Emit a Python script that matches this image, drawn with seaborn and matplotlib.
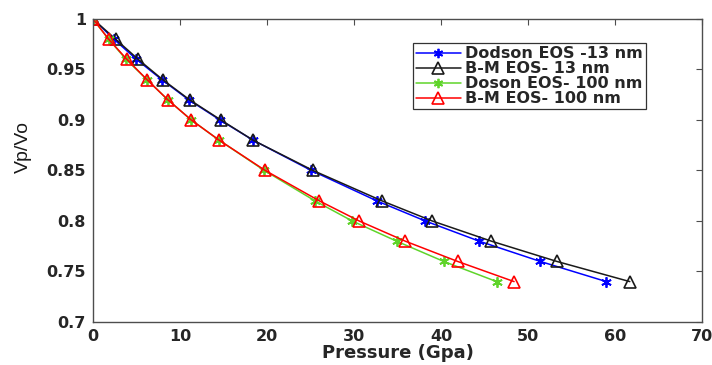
import numpy as np
import pandas as pd
import matplotlib
matplotlib.use("Agg")
import matplotlib.pyplot as plt
import seaborn as sns
from matplotlib.ticker import FuncFormatter

sns.set_theme(style="white")
plt.rcParams['font.family'] = ['DejaVu Sans']

# Data
vp_vo = [1.0, 0.98, 0.96, 0.94, 0.92, 0.90, 0.88, 0.85, 0.82, 0.80, 0.78, 0.76, 0.74]
p_dodson_13 = [0.0, 2.4, 5.0, 7.9, 11.0, 14.6, 18.4, 25.1, 32.6, 38.2, 44.4, 51.4, 59.0]
p_bm_13 = [0.0, 2.6, 5.2, 8.0, 11.1, 14.7, 18.4, 25.3, 33.2, 39.0, 45.8, 53.3, 61.7]
p_doson_100 = [0.0, 1.8, 3.8, 6.2, 8.6, 11.3, 14.5, 19.7, 25.5, 29.8, 34.9, 40.3, 46.4]
p_bm_100 = [0.0, 1.8, 3.9, 6.2, 8.6, 11.3, 14.5, 19.8, 26.0, 30.6, 35.9, 41.9, 48.4]
series_names = ["Dodson EOS -13 nm", "B-M EOS- 13 nm", "Doson EOS- 100 nm", "B-M EOS- 100 nm"]
x_ticks = [0, 10, 20, 30, 40, 50, 60, 70]
y_ticks = [0.7, 0.75, 0.8, 0.85, 0.9, 0.95, 1.0]

series_p = [p_dodson_13, p_bm_13, p_doson_100, p_bm_100]
colors = ["#0000ff", "#1a1a1a", "#5fd42a", "#ff0000"]
markers = [(6, 2, 0), "^", (6, 2, 0), "^"]

fig = plt.figure(figsize=(7.12, 3.65), dpi=100)
ax = fig.add_axes([0.1306, 0.1178, 0.8554, 0.8302])

for name, p, c, m in zip(series_names, series_p, colors, markers):
    df = pd.DataFrame({"P": p, "V": vp_vo})
    if m == "^":
        sns.lineplot(data=df, x="P", y="V", ax=ax, sort=False, color=c, lw=1.1,
                     marker=m, markersize=9, markerfacecolor="none",
                     markeredgecolor=c, markeredgewidth=1.2, label=name)
    else:
        sns.lineplot(data=df, x="P", y="V", ax=ax, sort=False, color=c, lw=1.1,
                     marker=m, markersize=7.5, markerfacecolor=c,
                     markeredgecolor=c, markeredgewidth=1.3, label=name)

ax.set_xlim(0, 70)
ax.set_ylim(0.7, 1.0)
ax.set_xticks(x_ticks)
ax.set_yticks(y_ticks)
ax.yaxis.set_major_formatter(FuncFormatter(lambda v, pos: f"{v:g}"))
ax.xaxis.set_major_formatter(FuncFormatter(lambda v, pos: f"{v:g}"))

axcol = "#4d4d4d"
for s in ax.spines.values():
    s.set_color(axcol)
    s.set_linewidth(1.0)
    s.set_visible(True)
ax.tick_params(direction="in", length=4, width=0.8, color=axcol,
               top=True, right=True, labelsize=11.5, labelcolor="#262626", pad=5)
for lab in ax.get_xticklabels() + ax.get_yticklabels():
    lab.set_fontweight("bold")

ax.set_xlabel("Pressure (Gpa)", fontsize=13, fontweight="bold", color="#262626",
              labelpad=0)
ax.set_ylabel("Vp/Vo", fontsize=14, color="#1a1a1a",
              family=["Liberation Sans", "DejaVu Sans"])
ax.yaxis.set_label_coords(-0.101, 0.578)

leg = ax.legend(loc="upper left", bbox_to_anchor=(0.525, 0.921), frameon=True,
                fancybox=False, edgecolor="#333333", framealpha=1,
                prop={"weight": "bold", "size": 11.5}, handlelength=2.8,
                handleheight=0.5, borderpad=0.2, labelspacing=0.0,
                handletextpad=0.3, borderaxespad=0, markerscale=0.9)
leg.get_frame().set_linewidth(0.9)

fig.savefig("out.png", dpi=100)
